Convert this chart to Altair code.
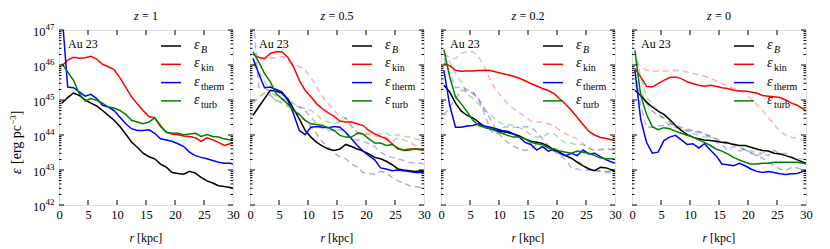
import altair as alt
import pandas as pd

# ---------------- data (log10 of energy density, erg pc^-3) ----------------
R_KPC = [0.5 + i for i in range(30)] + [30.0]
REDSHIFT_LABELS = ["1", "0.5", "0.2", "0"]
QUANTITIES = ["B", "kin", "therm", "turb"]
SUBSCRIPTS = ["B", "kin", "therm", "turb"]
COLORS = ["#000000", "#ff0000", "#0000ff", "#008000"]
HALO_LABEL = "Au 23"
X_TICKS = [0, 5, 10, 15, 20, 25, 30]
Y_DECADES = [42, 43, 44, 45, 46, 47]

# z = 1
LOG_B_Z1 = [44.91, 45.07, 45.20, 45.13, 45.00, 44.91, 44.83, 44.70, 44.56, 44.42, 44.24, 44.03, 43.80, 43.65, 43.48, 43.38,
            43.32, 43.17, 43.08, 42.93, 42.90, 42.88, 42.96, 42.91, 42.79, 42.69, 42.63, 42.55, 42.53, 42.50, 42.48]
LOG_KIN_Z1 = [45.97, 46.14, 46.22, 46.19, 46.21, 46.25, 46.17, 46.02, 45.95, 45.87, 45.64, 45.37, 45.09, 44.89, 44.70, 44.53,
              44.49, 44.24, 44.08, 44.03, 44.01, 43.97, 43.96, 43.92, 43.82, 43.92, 43.86, 43.79, 43.70, 43.75, 43.77]
LOG_THERM_Z1 = [47.50, 45.37, 45.35, 45.23, 45.11, 45.16, 45.04, 44.85, 44.80, 44.70, 44.51, 44.32, 44.18, 44.13, 44.13, 44.15,
                44.05, 43.89, 43.86, 43.82, 43.75, 43.67, 43.51, 43.41, 43.36, 43.32, 43.27, 43.22, 43.19, 43.19, 43.17]
LOG_TURB_Z1 = [46.04, 45.80, 45.56, 45.18, 44.97, 45.04, 44.99, 44.91, 44.80, 44.77, 44.70, 44.59, 44.42, 44.37, 44.32, 44.37,
               44.49, 44.27, 44.08, 44.05, 44.05, 44.01, 44.03, 44.05, 43.96, 44.01, 43.96, 43.94, 43.89, 43.86, 43.86]

# z = 0.5
LOG_B_Z05 = [44.56, 44.80, 45.04, 45.28, 45.25, 45.20, 45.04, 44.75, 44.46, 44.13, 43.94, 43.79, 43.68, 43.60, 43.56, 43.60,
             43.73, 43.67, 43.60, 43.54, 43.46, 43.36, 43.32, 43.25, 43.15, 43.03, 43.00, 42.98, 42.96, 42.98, 42.96]
LOG_KIN_Z05 = [46.31, 46.22, 46.18, 46.33, 46.38, 46.38, 46.22, 45.95, 45.56, 45.28, 45.09, 44.89, 44.75, 44.63, 44.53, 44.40,
               44.37, 44.37, 44.32, 44.27, 44.13, 44.03, 43.96, 43.89, 43.75, 43.60, 43.57, 43.60, 43.60, 43.57, 43.57]
LOG_THERM_Z05 = [46.19, 45.76, 45.35, 45.37, 45.30, 45.23, 45.00, 44.61, 44.13, 44.01, 44.22, 44.24, 44.22, 44.21, 44.24, 44.22,
                 44.08, 43.89, 43.70, 43.54, 43.41, 43.29, 43.06, 43.03, 42.98, 43.00, 42.98, 42.96, 42.93, 42.93, 42.96]
LOG_TURB_Z05 = [46.38, 46.09, 45.76, 45.52, 45.18, 45.04, 44.89, 44.70, 44.59, 44.42, 44.32, 44.30, 44.27, 44.21, 44.13, 43.99,
                43.94, 43.94, 44.05, 44.03, 43.89, 43.77, 43.77, 43.70, 43.73, 43.63, 43.56, 43.57, 43.60, 43.60, 43.57]

# z = 0.2
LOG_B_Z02 = [45.42, 45.23, 44.91, 44.68, 44.56, 44.49, 44.37, 44.22, 44.18, 44.13, 44.10, 44.07, 44.03, 43.97, 43.89, 43.82,
             43.79, 43.76, 43.68, 43.57, 43.50, 43.41, 43.34, 43.22, 43.12, 43.03, 42.98, 43.08, 43.06, 43.00, 42.96]
LOG_KIN_Z02 = [46.04, 45.98, 45.85, 45.82, 45.83, 45.83, 45.84, 45.85, 45.84, 45.80, 45.76, 45.72, 45.68, 45.62, 45.55, 45.47,
               45.40, 45.33, 45.27, 45.18, 45.03, 44.88, 44.70, 44.50, 44.30, 44.10, 44.00, 43.93, 43.90, 43.86, 43.84]
LOG_THERM_Z02 = [45.85, 44.85, 44.22, 44.22, 44.26, 44.27, 44.32, 44.26, 44.22, 44.18, 44.13, 44.11, 44.03, 43.94, 43.79, 43.73,
                 43.57, 43.67, 43.54, 43.60, 43.48, 43.41, 43.48, 43.41, 43.57, 43.46, 43.48, 43.38, 43.29, 43.22, 43.20]
LOG_TURB_Z02 = [46.44, 45.66, 45.09, 44.89, 44.66, 44.42, 44.27, 44.22, 44.18, 44.11, 44.05, 43.99, 43.94, 43.94, 43.89, 43.79,
                43.75, 43.73, 43.63, 43.60, 43.54, 43.51, 43.48, 43.54, 43.51, 43.48, 43.41, 43.34, 43.32, 43.32, 43.31]

# z = 0
LOG_B_Z0 = [45.28, 45.13, 44.94, 44.80, 44.68, 44.59, 44.44, 44.27, 44.13, 44.01, 43.94, 43.89, 43.86, 43.84, 43.82, 43.79,
            43.77, 43.73, 43.70, 43.70, 43.65, 43.60, 43.56, 43.54, 43.48, 43.46, 43.41, 43.36, 43.29, 43.22, 43.19]
LOG_KIN_Z0 = [45.90, 45.66, 45.39, 45.37, 45.47, 45.56, 45.64, 45.66, 45.61, 45.52, 45.47, 45.42, 45.39, 45.42, 45.39, 45.35,
              45.33, 45.28, 45.26, 45.26, 45.23, 45.20, 45.13, 45.11, 45.09, 45.07, 45.00, 44.91, 44.85, 44.75, 44.68]
LOG_THERM_Z0 = [45.85, 44.45, 43.79, 43.48, 43.51, 43.84, 43.94, 43.99, 43.86, 43.73, 43.75, 43.63, 43.75, 43.57, 43.41, 43.17,
                43.15, 43.12, 43.19, 43.12, 43.03, 42.96, 42.93, 42.96, 42.93, 42.89, 42.87, 42.89, 42.90, 42.96, 42.99]
LOG_TURB_Z0 = [46.41, 45.13, 44.59, 44.24, 44.15, 44.21, 44.18, 44.11, 44.05, 43.99, 43.94, 43.86, 43.79, 43.70, 43.60, 43.54,
               43.46, 43.36, 43.29, 43.22, 43.17, 43.17, 43.19, 43.19, 43.22, 43.22, 43.22, 43.22, 43.22, 43.19, 43.17]

PANELS = [
    [LOG_B_Z1, LOG_KIN_Z1, LOG_THERM_Z1, LOG_TURB_Z1],
    [LOG_B_Z05, LOG_KIN_Z05, LOG_THERM_Z05, LOG_TURB_Z05],
    [LOG_B_Z02, LOG_KIN_Z02, LOG_THERM_Z02, LOG_TURB_Z02],
    [LOG_B_Z0, LOG_KIN_Z0, LOG_THERM_Z0, LOG_TURB_Z0],
]

# ---------------- style ----------------
FONT = "Liberation Serif"
W, H = 174, 175
LW = 1.5


def panel_frame(series_list):
    rows = []
    for q, vals in zip(QUANTITIES, series_list):
        for r, v in zip(R_KPC, vals):
            rows.append({"r": r, "eps": 10.0 ** v, "q": q})
    return pd.DataFrame(rows)


xs = alt.Scale(domain=[0, 30], nice=False, zero=False)
ys = alt.Scale(type="log", domain=[1e42, 1e47], nice=False)
cs = alt.Scale(domain=QUANTITIES, range=COLORS)
xaxis = alt.Axis(values=X_TICKS, title=None, labelFont=FONT, labelFontSize=12.5, labelColor="black",
                 labelFontWeight="normal", ticks=False, tickSize=0, domain=False, grid=False,
                 labelPadding=3, labelAngle=0, format="d", labelFlush=False, labelOverlap=False)

Y_MAJOR = [10.0 ** d for d in Y_DECADES]
Y_MINOR = [k * 10.0 ** d for d in Y_DECADES[:-1] for k in range(2, 10)]


def text_layer(txt, x, y, size=12, style="normal", align="left", baseline="middle", angle=0, dx=0, dy=0):
    return alt.Chart(pd.DataFrame({"t": [txt]})).mark_text(
        font=FONT, fontSize=size, fontStyle=style, fontWeight="normal", align=align, baseline=baseline,
        angle=angle, dx=dx, dy=dy, color="black"
    ).encode(x=alt.value(x), y=alt.value(y), text="t:N")


def tw(s, size):
    widths = {"=": 0.564, " ": 0.25, ".": 0.25}
    return sum(widths.get(c, 0.5) for c in s) * size


def make_panel(i):
    layers = []
    if i > 0:
        prev = panel_frame(PANELS[i - 1])
        layers.append(alt.Chart(prev).mark_line(strokeWidth=LW, strokeDash=[6, 4], opacity=0.3, clip=True).encode(
            x=alt.X("r:Q", scale=xs, axis=xaxis),
            y=alt.Y("eps:Q", scale=ys, axis=None),
            color=alt.Color("q:N", scale=cs, legend=None),
            detail="q:N",
        ))
    cur = panel_frame(PANELS[i])
    layers.append(alt.Chart(cur).mark_line(strokeWidth=LW, clip=True).encode(
        x=alt.X("r:Q", scale=xs, axis=xaxis),
        y=alt.Y("eps:Q", scale=ys, axis=None),
        color=alt.Color("q:N", scale=cs, legend=None),
        detail="q:N",
    ))

    # inward ticks on all four sides
    ymaj = pd.DataFrame({"v": Y_MAJOR})
    ymin = pd.DataFrame({"v": Y_MINOR})
    xt = pd.DataFrame({"t": X_TICKS[1:-1]})
    for df, ln in ((ymaj, 5), (ymin, 2.5)):
        for x0, x1 in ((0, ln), (W - ln, W)):
            layers.append(alt.Chart(df).mark_rule(color="black", strokeWidth=1).encode(
                y=alt.Y("v:Q", scale=ys, axis=None), x=alt.value(x0), x2=alt.value(x1)))
    for y0, y1 in ((0, 5), (H - 5, H)):
        layers.append(alt.Chart(xt).mark_rule(color="black", strokeWidth=1).encode(
            x=alt.X("t:Q", scale=xs, axis=xaxis), y=alt.value(y0), y2=alt.value(y1)))

    # halo label
    layers.append(text_layer(HALO_LABEL, 9, 14, size=12))

    # legend
    for k, (q, sub) in enumerate(zip(QUANTITIES, SUBSCRIPTS)):
        yk = 16 + 18.3 * k
        layers.append(alt.Chart(pd.DataFrame({"q": [q]})).mark_rule(strokeWidth=LW).encode(
            x=alt.value(102), x2=alt.value(122), y=alt.value(yk),
            color=alt.Color("q:N", scale=cs, legend=None)))
        layers.append(text_layer("ε", 135, yk - 1, size=14, style="italic"))
        layers.append(text_layer(sub, 142, yk + 4, size=10, style="italic" if sub == "B" else "normal"))

    # panel title  z = ...
    rest = "= " + REDSHIFT_LABELS[i]
    x0 = W / 2 - (8 + tw(rest, 12)) / 2
    layers.append(text_layer("z", x0, -14, size=12, style="italic"))
    layers.append(text_layer(rest, x0 + 8, -14, size=12))

    # x-axis title  r [kpc]
    x0 = W / 2 - 16.5
    layers.append(text_layer("r", x0, H + 33, size=12, style="italic"))
    layers.append(text_layer("[kpc]", x0 + 7.5, H + 33, size=12))

    if i == 0:
        # y tick labels 10^n
        lab = pd.DataFrame({"v": Y_MAJOR, "base": ["10"] * len(Y_MAJOR), "ex": [str(d) for d in Y_DECADES]})
        layers.append(alt.Chart(lab).mark_text(font=FONT, fontSize=12.5, align="right", baseline="middle", dy=2,
                                               color="black").encode(
            y=alt.Y("v:Q", scale=ys, axis=None), x=alt.value(-13.5), text="base:N"))
        layers.append(alt.Chart(lab).mark_text(font=FONT, fontSize=9, align="left", baseline="middle", dy=-3,
                                               color="black").encode(
            y=alt.Y("v:Q", scale=ys, axis=None), x=alt.value(-13.5), text="ex:N"))
        # y-axis title  eps [erg pc^-3], rotated
        ax, ay, F = -42.5, 144, 14
        layers.append(text_layer("ε", ax, ay, size=F, style="italic", angle=270))
        layers.append(text_layer("[erg pc", ax, ay, size=F, angle=270, dx=10))
        layers.append(text_layer("−3", ax, ay, size=9, angle=270, dx=10 + 2.8 * F, dy=-4))
        layers.append(text_layer("]", ax, ay, size=F, angle=270, dx=10 + 2.8 * F + 9.6))

    return alt.layer(*layers).properties(width=W, height=H)


chart = alt.hconcat(*[make_panel(i) for i in range(4)], spacing=17, bounds="flush").properties(
    padding={"left": 0, "top": 1, "right": 5, "bottom": 5}
).configure_view(stroke="black", strokeWidth=1.2).configure_axis(
    labelFont=FONT, labelFontSize=12.5, labelColor="black", labelFlush=False
).configure(background="white")

chart.save("out.html", embed_options={"renderer": "svg", "actions": False})
